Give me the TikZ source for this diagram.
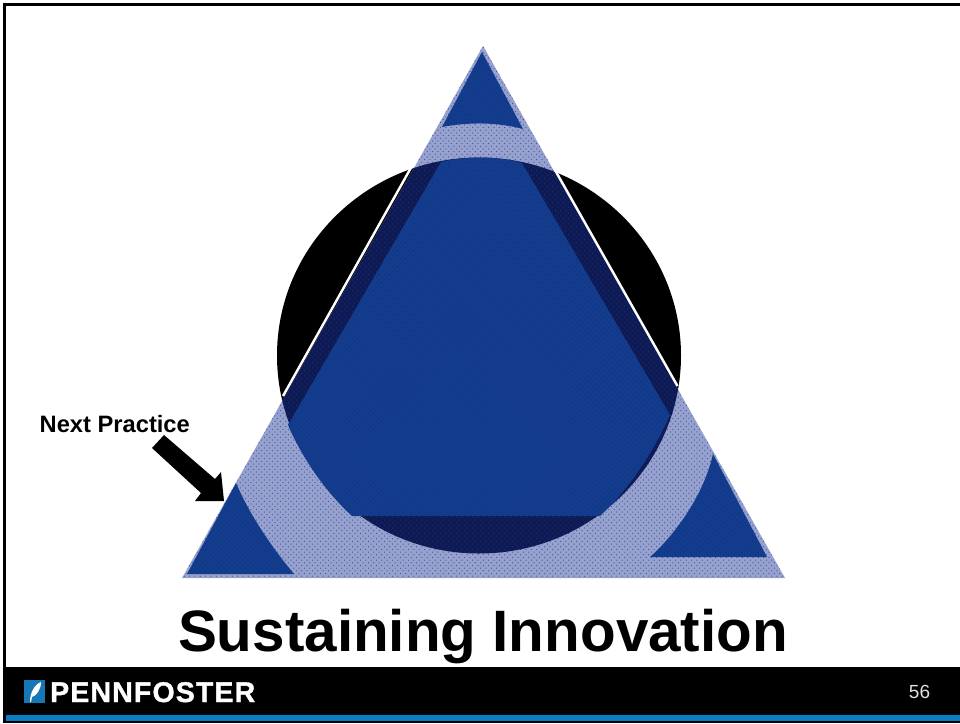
\documentclass[tikz,border=0pt]{standalone}
\usepackage{fontspec}
\setmainfont{Liberation Sans}
\newfontfamily\brandfont[FakeBold=1.2,LetterSpace=4,BoldFont={Liberation Sans Bold}]{Liberation Sans Bold}
\usetikzlibrary{patterns}
\definecolor{bandbase}{HTML}{96A2CD}
\definecolor{banddot}{HTML}{3E4CA4}
\definecolor{coreblue}{HTML}{143C8D}
\definecolor{coredot}{HTML}{0F3280}
\definecolor{navy}{HTML}{0E1A53}
\definecolor{navydot}{HTML}{1E2F78}
\definecolor{footblue}{HTML}{0A7CC4}
\definecolor{logoblue}{HTML}{1577B4}
\pgfdeclarepatternformonly{halftone}{\pgfqpoint{-1pt}{-1pt}}{\pgfqpoint{5pt}{5pt}}{\pgfqpoint{5.34pt}{5.34pt}}{%
  \pgfpathcircle{\pgfqpoint{0pt}{0pt}}{0.62pt}
  \pgfpathcircle{\pgfqpoint{2.67pt}{2.67pt}}{0.62pt}
  \pgfusepath{fill}}
\tikzset{
  halfband/.style={pattern=halftone,pattern color=banddot},
  halfcore/.style={pattern=halftone,pattern color=coredot},
  halfnavy/.style={pattern=halftone,pattern color=navydot},
  edgeline/.style={white,line width=2.4pt},
  labeltext/.style={inner sep=0pt,font=\bfseries\fontsize{23.7}{26}\selectfont},
}
\begin{document}
\begin{tikzpicture}[x=1pt,y=-1pt]
\useasboundingbox (0,0) rectangle (960,723);
\fill[white] (0,0) rectangle (960,723);
% frame and footer
\fill[black] (3,3) rectangle (960,6);
\fill[black] (3,3) rectangle (6,723);
\fill[black] (3,667) rectangle (960,723);
\fill[footblue] (6,715) rectangle (960,721);
% black disc
\fill[black] (479,355.5) ellipse [x radius=202,y radius=198];
% outer triangle
\path[fill=bandbase] (483,46) -- (182,578) -- (785,578) -- cycle;
\path[halfband] (483,46) -- (182,578) -- (785,578) -- cycle;
% disc seen through the triangle
\begin{scope}
  \clip (483,46) -- (182,578) -- (785,578) -- cycle;
  \fill[navy] (479,355.5) ellipse [x radius=202,y radius=198];
  \path[halfnavy] (479,355.5) ellipse [x radius=202,y radius=198];
\end{scope}
% white lines along the sides, over the disc
\draw[edgeline] (412.5,165) -- (283,396);
\draw[edgeline] (555,170) -- (677.5,386);
% central blue shape
\def\corepath{(441,162) .. controls (465,156) and (498,156) .. (522,163) -- (670,415) .. controls (652,455) and (628,490) .. (600,516) -- (352,516) .. controls (328,494) and (304,462) .. (288,425) -- cycle}
\fill[coreblue] \corepath;
\path[halfcore] \corepath;
% corner blue shapes
\def\toppath{(482,52) -- (442,127) .. controls (468,122) and (497,122) .. (523,129) -- cycle}
\def\leftpath{(236,483) -- (187,574) -- (294,574) .. controls (270,545) and (250,515) .. (236,483) -- cycle}
\def\rightpath{(713,454) -- (767,557) -- (650,557) .. controls (680,530) and (705,490) .. (713,454) -- cycle}
\fill[coreblue] \toppath;
\fill[coreblue] \leftpath;
\fill[coreblue] \rightpath;
\path[halfcore] \toppath;
\path[halfcore] \leftpath;
\path[halfcore] \rightpath;
% arrow
\fill[black] (152,448) -- (164,435) -- (215,479) -- (221,472) -- (224,501) -- (195,501) -- (201,493) -- cycle;
% texts
\node[labeltext,anchor=base west] (nextpractice) at (39.5,432) {Next Practice};
\node[inner sep=0pt,anchor=base,font=\bfseries\fontsize{58.4}{62}\selectfont] (title) at (483,651) {Sustaining Innovation};
\node[inner sep=0pt,anchor=base,text=white!88!black,font=\fontsize{19}{22}\selectfont] (pagenum) at (919.5,698) {56};
% logo
\fill[logoblue] (24,680) rectangle (45,703);
\fill[white] (30,702) .. controls (30,693) and (34,685) .. (41,682) .. controls (41,690) and (36,696) .. (32,697) -- (31,702) -- cycle;
\node[inner sep=0pt,anchor=base west,text=white,xscale=1.0,font=\brandfont\fontsize{28.5}{32}\selectfont] (brand) at (50,702) {PENNFOSTER};
\end{tikzpicture}
\end{document}
